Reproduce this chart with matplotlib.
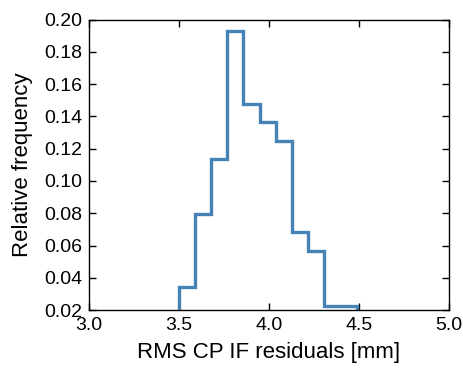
import matplotlib

matplotlib.use("Agg")
import matplotlib.pyplot as plt  # noqa: E402
import numpy as np  # noqa: E402

plt.rcParams["font.family"] = ["Liberation Sans", "DejaVu Sans"]

# histogram: 11 bins between ~3.50 and ~4.49 mm, 88 samples
bin_lo = 3.498
bin_hi = 4.488
counts = np.array([3, 7, 10, 17, 13, 12, 11, 6, 5, 2, 2])
n_samples = 88

edges = np.linspace(bin_lo, bin_hi, len(counts) + 1)
rel_freq = counts / n_samples

fig = plt.figure(figsize=(4.63, 3.70), dpi=100)
ax = fig.add_axes([0.192, 0.162, 0.778, 0.785])
ax.hist(edges[:-1], bins=edges, weights=rel_freq, histtype="step",
        color="#4682b4", lw=2.4)

ax.set_xlim(3.0, 5.0)
ax.set_ylim(0.02, 0.20)
ax.set_xticks(np.arange(3.0, 5.01, 0.5))
ax.set_yticks(np.arange(0.02, 0.201, 0.02))
ax.set_xticklabels([f"{v:.1f}" for v in np.arange(3.0, 5.01, 0.5)])
ax.set_yticklabels([f"{v:.2f}" for v in np.arange(0.02, 0.201, 0.02)])
ax.tick_params(direction="in", top=True, right=True, length=5, width=1,
               labelsize=14, pad=5)
for s in ax.spines.values():
    s.set_linewidth(1)
ax.set_xlabel("RMS CP IF residuals [mm]", fontsize=16, labelpad=6)
ax.set_ylabel("Relative frequency", fontsize=16, labelpad=8)

fig.savefig("out.png", dpi=100)
plt.close(fig)
